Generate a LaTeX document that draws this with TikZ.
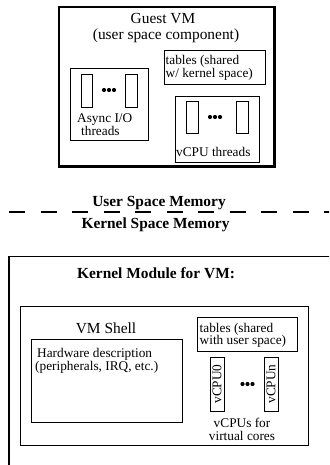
\documentclass[tikz,border=0pt]{standalone}
\usepackage{fontspec}
\setmainfont{Liberation Serif}
\usetikzlibrary{fit}
\begin{document}
\begin{tikzpicture}[x=1pt,y=-1pt,
  box/.style={draw, line width=0.9pt, inner sep=0pt},
  thickbox/.style={draw, line width=2.7pt, inner sep=0pt},
  small/.style={font=\fontsize{13.3}{14}\selectfont, inner sep=0pt},
  large/.style={font=\fontsize{15.4}{16}\selectfont, inner sep=0pt},
  bold/.style={font=\fontsize{15.4}{16}\selectfont\bfseries, inner sep=0pt},
  dot/.style={circle, fill, inner sep=0pt, minimum size=4.2pt}]
\useasboundingbox[fill=white] (0,0) rectangle (329,465);
\clip (0,0) rectangle (329,465);

% ---------- Guest VM ----------
\node[thickbox, fit={(59,7) (274.6,166.4)}] (guest) {};
\node[large, anchor=base] (gtitle) at (163,24) {Guest VM};
\node[large, anchor=base] (gsub) at (166,40) {(user space component)};

\node[box, fit={(164,50.5) (265,84)}] (tabU) {};
\node[small, anchor=base west] (tabU1) at (165.5,65) {tables (shared};
\node[small, anchor=base west] (tabU2) at (165.5,78) {w/ kernel space)};

\node[box, fit={(70,68) (148,140)}] (async) {};
\node[box, fit={(81,74) (92,107)}] (asyncA) {};
\node[box, fit={(125.5,74) (137,107)}] (asyncB) {};
\node[dot] (ad1) at (104,90) {};
\node[dot] (ad2) at (109,90) {};
\node[dot] (ad3) at (114,90) {};
\node[small, anchor=base west] (async1) at (77,122.5) {Async I/O};
\node[small, anchor=base west] (async2) at (81,135.5) {threads};

\node[box, fit={(175,96) (259,162)}] (vthr) {};
\node[box, fit={(186,101) (198,133)}] (vtA) {};
\node[box, fit={(236,101) (248,133)}] (vtB) {};
\node[dot] (vd1) at (210,117) {};
\node[dot] (vd2) at (215,117) {};
\node[dot] (vd3) at (220,117) {};
\node[small, anchor=base west] (vthrl) at (176,157) {vCPU threads};

% ---------- separator ----------
\coordinate (sepL) at (9,212);
\coordinate (sepR) at (335,212);
\draw[line width=1.8pt, dash pattern=on 16pt off 15.5pt] (sepL) -- (sepR);
\node[bold, anchor=base] (usm) at (159,206.5) {User Space Memory};
\node[bold, anchor=base] (ksm) at (155.5,228) {Kernel Space Memory};

% ---------- Kernel module ----------
\coordinate (kTR) at (335,256.5);
\coordinate (kTL) at (8.7,256.5);
\coordinate (kBL) at (8.7,470);
\draw[line width=1.9pt] (kTR) -- (kTL) -- (kBL);
\node[bold, anchor=base] (kmod) at (156,278) {Kernel Module for VM:};

\node[box, fit={(20,306) (308,445)}] (shell) {};
\node[large, anchor=base] (shellt) at (106,333) {VM Shell};

\node[box, fit={(31,339) (182,422.5)}] (hw) {};
\node[small, anchor=base west] (hw1) at (37,357) {Hardware description};
\node[small, anchor=base west] (hw2) at (35,370) {(peripherals, IRQ, etc.)};

\node[box, fit={(197,317.5) (297.5,351.5)}] (tabK) {};
\node[small, anchor=base west] (tabK1) at (199.5,332) {tables (shared};
\node[small, anchor=base west] (tabK2) at (199.5,344.5) {with user space)};

\node[box, fit={(210,357) (224,411)}] (cpu0) {};
\node[small, rotate=90] at (cpu0.center) {vCPU0};
\node[box, fit={(264,357) (278,411)}] (cpun) {};
\node[small, rotate=90] at (cpun.center) {vCPUn};
\node[dot] (kd1) at (242.5,384) {};
\node[dot] (kd2) at (247.5,384) {};
\node[dot] (kd3) at (252.5,384) {};
\node[small, anchor=base] (vc1) at (242,427.5) {vCPUs for};
\node[small, anchor=base] (vc2) at (242,440) {virtual cores};
\end{tikzpicture}
\end{document}
